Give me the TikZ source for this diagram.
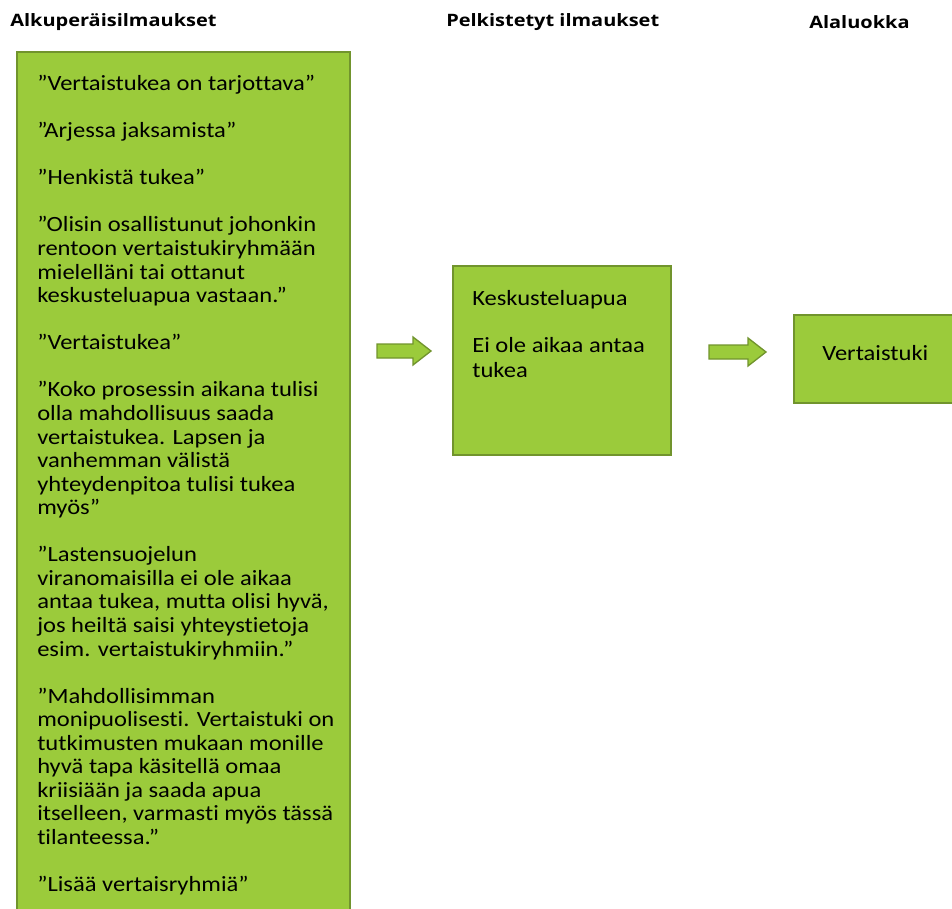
\documentclass[tikz,border=0pt]{standalone}
\usepackage{fontspec}
\setmainfont{Carlito}[FakeStretch=1.13, Ligatures=NoCommon]
\newfontfamily\headfont{Open Sans}[FakeStretch=1.17]
\usetikzlibrary{positioning}
\definecolor{boxgreen}{RGB}{155,203,59}
\definecolor{boxedge}{RGB}{113,148,45}
\tikzset{
  greenbox/.style={draw=boxedge, fill=boxgreen, line width=1.2pt},
  blockarrow/.style={draw=boxedge, fill=boxgreen, line width=1pt, line join=miter},
  headtext/.style={inner sep=0.75pt, font=\headfont\fontsize{12.8}{15}\selectfont\bfseries},
  boxtext/.style={inner sep=0pt, align=left, font=\fontsize{16.3}{17.67}\selectfont}
}
\begin{document}
\begin{tikzpicture}[x=0.75pt,y=0.75pt,yscale=-1,xscale=1]
\useasboundingbox (0,0) rectangle (952,909);

%Shape: Rectangle [id:alkuperaiset]
\draw [greenbox] (17,52) rectangle (350,925) ;
%Shape: Rectangle [id:pelkistetyt]
\draw [greenbox] (453,266) rectangle (671,455) ;
%Shape: Rectangle [id:alaluokka]
\draw [greenbox] (794,315) rectangle (970,403) ;
%Shape: Right Arrow [id:nuoli1]
\draw [blockarrow] (377,344) -- (413,344) -- (413,337) -- (431,351) -- (413,365) -- (413,358) -- (377,358) -- cycle ;
%Shape: Right Arrow [id:nuoli2]
\draw [blockarrow] (709,345) -- (748,345) -- (748,338) -- (766,352) -- (748,366) -- (748,359) -- (709,359) -- cycle ;

% Text Node
\draw (9,22) node [anchor=west][headtext] (otsikko1) {Alkuperäisilmaukset};
% Text Node
\draw (445,22) node [anchor=west][headtext] (otsikko2) {Pelkistetyt ilmaukset};
% Text Node
\draw (808,22) node [anchor=west][headtext] (otsikko3) {Alaluokka};
% Text Node
\draw (37,75) node [anchor=north west][boxtext] (ilmaukset) {%
”Vertaistukea on tarjottava”\\[17.67pt]
”Arjessa jaksamista”\\[17.67pt]
”Henkistä tukea”\\[17.67pt]
”Olisin osallistunut johonkin\\
rentoon vertaistukiryhmään\\
mielelläni tai ottanut\\
keskusteluapua vastaan.”\\[17.67pt]
”Vertaistukea”\\[17.67pt]
”Koko prosessin aikana tulisi\\
olla mahdollisuus saada\\
vertaistukea. Lapsen ja\\
vanhemman välistä\\
yhteydenpitoa tulisi tukea\\
myös”\\[17.67pt]
”Lastensuojelun\\
viranomaisilla ei ole aikaa\\
antaa tukea, mutta olisi hyvä,\\
jos heiltä saisi yhteystietoja\\
esim. vertaistukiryhmiin.”\\[17.67pt]
”Mahdollisimman\\
monipuolisesti. Vertaistuki on\\
tutkimusten mukaan monille\\
hyvä tapa käsitellä omaa\\
kriisiään ja saada apua\\
itselleen, varmasti myös tässä\\
tilanteessa.”\\[17.67pt]
”Lisää vertaisryhmiä”};
% Text Node
\draw (472,290) node [anchor=north west][boxtext] (pelkistys) {%
Keskusteluapua\\[17.67pt]
Ei ole aikaa antaa\\[1pt]
tukea};
% Text Node
\draw (822,353) node [anchor=west][boxtext] (alaluokka) {Vertaistuki};

\end{tikzpicture}
\end{document}
